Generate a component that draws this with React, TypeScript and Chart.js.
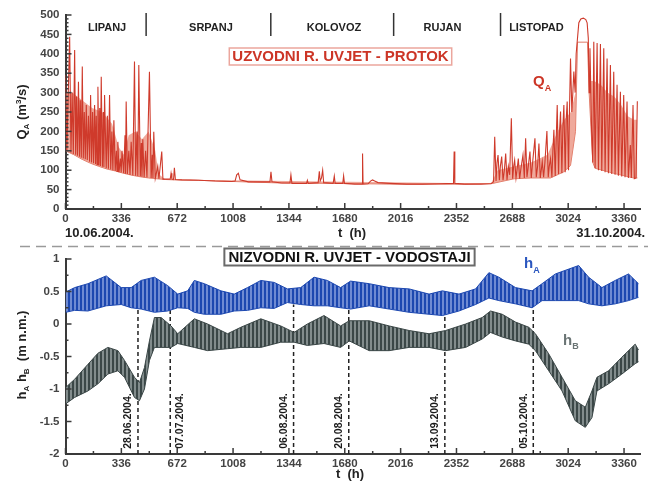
import React, { useEffect, useRef } from "react";
import { Chart, registerables } from "chart.js";
Chart.register(...registerables);

// ---------------- DATA ----------------
const T_MAX = 3456;
const xTickHours = [0, 336, 672, 1008, 1344, 1680, 2016, 2352, 2688, 3024, 3360];
const qTicks = [0, 50, 100, 150, 200, 250, 300, 350, 400, 450, 500];
const hTicks = [-2, -1.5, -1, -0.5, 0, 0.5, 1];

const monthNames = ["LIPANJ", "SRPANJ", "KOLOVOZ", "RUJAN", "LISTOPAD"];
const monthCenterHours = [250, 875, 1615, 2268, 2833];
const monthBreakHours = [485, 1235, 1974, 2617];

const dateMarkLabels = ["28.06.2004.", "07.07.2004.", "06.08.2004.", "20.08.2004.", "13.09.2004.", "05.10.2004."];
const dateMarkHours = [436, 630, 1372, 1704, 2282, 2814];
const dateMarkTop = [0.3, 0.3, 0.3, 0.3, 0.3, 0.3];
const dateLabelSide = [-1, 1, -1, -1, -1, -1];

// upstream discharge Q_A (m3/s)
const qaHours = [
  0, 8, 25, 33, 40, 47, 55, 61, 66, 72,
  78, 84, 89, 95, 101, 107, 113, 119, 125, 131,
  138, 145, 151, 157, 163, 169, 175, 181, 185, 190,
  195, 201, 206, 210, 215, 222, 228, 231, 235, 245,
  252, 258, 265, 272, 279, 285, 291, 299, 306, 310,
  315, 322, 330, 335, 340, 350, 358, 361, 365, 372,
  381, 388, 395, 405, 415, 422, 430, 435, 441, 450,
  456, 460, 465, 473, 482, 490, 505, 515, 522, 526,
  531, 540, 555, 562, 579, 586, 630, 635, 640, 650,
  655, 661, 700, 800, 900, 1000, 1020, 1030, 1040, 1050,
  1100, 1200, 1230, 1236, 1242, 1300, 1350, 1356, 1362, 1400,
  1450, 1455, 1460, 1520, 1527, 1532, 1540, 1547, 1553, 1610,
  1617, 1622, 1668, 1673, 1678, 1740, 1784, 1787, 1790, 1820,
  1835, 1847, 1860, 1880, 1950, 2050, 2150, 2250, 2334, 2338,
  2342, 2400, 2500, 2560, 2575, 2582, 2590, 2596, 2602, 2610,
  2616, 2624, 2632, 2640, 2648, 2656, 2664, 2672, 2682, 2690,
  2696, 2702, 2710, 2716, 2724, 2732, 2740, 2752, 2760, 2768,
  2776, 2784, 2794, 2802, 2810, 2824, 2832, 2840, 2848, 2856,
  2862, 2868, 2876, 2884, 2896, 2904, 2910, 2918, 2926, 2932,
  2938, 2946, 2952, 2958, 2966, 2972, 2978, 2986, 2992, 2998,
  3006, 3012, 3018, 3026, 3032, 3038, 3046, 3052, 3058, 3066,
  3072, 3080, 3088, 3100, 3115, 3130, 3138, 3145, 3150, 3155,
  3165, 3172, 3178, 3186, 3198, 3206, 3218, 3226, 3238, 3246,
  3258, 3266, 3278, 3286, 3298, 3306, 3318, 3326, 3338, 3346,
  3358, 3366, 3378, 3386, 3398, 3404, 3414, 3422, 3432, 3440,
];
const qaFlow = [
  345, 150, 444, 145, 300, 142, 410, 140, 290, 137,
  328, 135, 280, 132, 367, 130, 250, 128, 268, 126,
  240, 122, 294, 120, 250, 118, 268, 116, 240, 114,
  315, 112, 260, 111, 341, 109, 250, 108, 294, 105,
  240, 104, 294, 102, 200, 100, 229, 98, 150, 97,
  173, 95, 130, 94, 150, 92, 190, 91, 277, 90,
  150, 88, 173, 87, 380, 86, 200, 85, 371, 84,
  170, 83, 180, 82, 150, 81, 354, 80, 140, 80,
  199, 79, 110, 78, 148, 77, 77, 92, 77, 76,
  106, 76, 75, 74, 72, 71, 72, 88, 92, 75,
  70, 70, 70, 96, 70, 67, 67, 88, 66, 66,
  66, 74, 66, 68, 97, 72, 80, 100, 68, 66,
  85, 66, 66, 85, 66, 64, 64, 143, 64, 65,
  72, 75, 72, 68, 66, 64, 64, 65, 66, 148,
  66, 64, 64, 65, 70, 186, 72, 120, 139, 74,
  110, 135, 74, 100, 143, 75, 110, 88, 234, 78,
  110, 126, 80, 100, 130, 78, 105, 139, 80, 182,
  82, 110, 148, 80, 120, 182, 82, 110, 169, 80,
  100, 122, 82, 120, 201, 82, 110, 130, 82, 150,
  204, 85, 180, 268, 90, 200, 251, 92, 210, 268,
  95, 230, 277, 100, 260, 388, 250, 300, 354, 300,
  400, 440, 480, 490, 492, 488, 480, 440, 300, 414,
  200, 120, 431, 105, 428, 100, 425, 98, 414, 95,
  388, 92, 371, 90, 354, 88, 320, 86, 302, 84,
  294, 82, 277, 80, 165, 80, 268, 78, 80, 278,
];
// lower envelope (base flow) of Q_A
const qaBaseHours = [0, 50, 100, 150, 200, 250, 300, 350, 400, 450, 500, 550, 600, 660, 800, 1000, 1300, 1600, 2000, 2400, 2570, 2700, 2800, 2918, 2998, 3038, 3068, 3080, 3140, 3150, 3172, 3186, 3298, 3418, 3440];
const qaBase = [150, 140, 128, 118, 110, 103, 98, 92, 87, 83, 80, 78, 76, 75, 74, 71, 67, 66, 64, 64, 66, 78, 80, 80, 96, 112, 200, 430, 430, 300, 120, 105, 92, 80, 80];
// top of the dense (light) band of daily oscillations of Q_A
const qaBandHours = [0, 40, 100, 160, 220, 280, 320, 350, 380, 420, 460, 500, 540, 560, 600, 2560, 2600, 2700, 2800, 2900, 2960, 3000, 3040, 3068, 3080, 3140, 3160, 3180, 3220, 3260, 3300, 3340, 3380, 3420, 3440];
const qaBandTop = [300, 300, 280, 260, 250, 220, 160, 140, 190, 200, 180, 200, 150, 90, 76, 66, 100, 110, 120, 140, 200, 230, 250, 300, 430, 430, 330, 330, 320, 300, 290, 270, 240, 230, 230];

// downstream water levels (m n.m.) - upper / lower envelopes of the tidal band
const haHours = [0, 55, 135, 245, 335, 395, 455, 535, 615, 675, 735, 775, 835, 935, 1015, 1095, 1175, 1255, 1335, 1415, 1495, 1575, 1655, 1715, 1827, 1947, 2067, 2187, 2267, 2367, 2467, 2547, 2607, 2707, 2807, 2867, 2947, 3087, 3147, 3227, 3307, 3387, 3447];
const haUpper = [0.49, 0.56, 0.62, 0.74, 0.56, 0.56, 0.67, 0.72, 0.59, 0.46, 0.51, 0.67, 0.62, 0.51, 0.46, 0.56, 0.67, 0.64, 0.54, 0.56, 0.72, 0.67, 0.56, 0.66, 0.62, 0.56, 0.54, 0.46, 0.51, 0.46, 0.54, 0.79, 0.72, 0.56, 0.51, 0.62, 0.77, 0.9, 0.72, 0.56, 0.67, 0.77, 0.62];
const haLower = [0.18, 0.21, 0.2, 0.28, 0.3, 0.25, 0.23, 0.18, 0.2, 0.25, 0.24, 0.18, 0.15, 0.15, 0.2, 0.21, 0.25, 0.24, 0.33, 0.3, 0.28, 0.28, 0.25, 0.23, 0.28, 0.23, 0.18, 0.15, 0.13, 0.2, 0.3, 0.4, 0.36, 0.31, 0.25, 0.36, 0.36, 0.36, 0.31, 0.28, 0.31, 0.36, 0.41];

const hbHours = [0, 55, 135, 195, 255, 315, 355, 415, 445, 475, 505, 535, 575, 635, 675, 775, 855, 975, 1055, 1175, 1295, 1375, 1455, 1555, 1655, 1707, 1827, 1947, 2067, 2187, 2287, 2407, 2507, 2557, 2627, 2707, 2787, 2827, 2907, 2987, 3067, 3127, 3167, 3197, 3267, 3347, 3427, 3447];
const hbUpper = [-0.98, -0.85, -0.62, -0.45, -0.36, -0.41, -0.56, -0.82, -0.9, -0.67, -0.26, 0.1, 0.1, -0.03, -0.15, 0.08, 0.0, -0.15, -0.05, 0.08, -0.03, -0.13, 0.0, 0.13, -0.03, 0.05, 0.05, -0.03, -0.1, -0.15, -0.1, 0.0, 0.1, 0.2, 0.15, 0.03, -0.05, -0.15, -0.46, -0.82, -1.18, -1.28, -1.03, -0.82, -0.72, -0.51, -0.31, -0.4];
const hbLower = [-1.23, -1.13, -1.03, -0.92, -0.77, -0.72, -0.82, -1.13, -1.18, -1.0, -0.56, -0.36, -0.36, -0.36, -0.3, -0.36, -0.41, -0.38, -0.36, -0.36, -0.28, -0.28, -0.33, -0.3, -0.36, -0.26, -0.41, -0.41, -0.36, -0.36, -0.41, -0.36, -0.23, -0.13, -0.2, -0.26, -0.31, -0.41, -0.72, -1.03, -1.49, -1.59, -1.44, -1.03, -0.92, -0.77, -0.61, -0.58];

const topTitle = "UZVODNI R. UVJET - PROTOK";
const bottomTitle = "NIZVODNI R. UVJET - VODOSTAJI";

// ---------------- STYLE ----------------
const SANS = "'Liberation Sans', Arial, Helvetica, sans-serif";
const AXIS = "#3a3a3a";
const RED = "#cc3526";
const BLUE_D = "#1d48b0";
const BLUE_L = "#6f8bd3";
const GRAY_D = "#3b4747";
const GRAY_L = "#828c8c";

type Part = { text: string; font: string; dy?: number };
function drawRich(ctx: CanvasRenderingContext2D, parts: Part[], x: number, y: number, align: string) {
  let total = 0;
  parts.forEach((p) => { ctx.font = p.font; total += ctx.measureText(p.text).width; });
  let cx = align === "center" ? x - total / 2 : align === "right" ? x - total : x;
  ctx.textAlign = "left";
  ctx.textBaseline = "alphabetic";
  parts.forEach((p) => {
    ctx.font = p.font;
    ctx.fillText(p.text, cx, y + (p.dy || 0));
    cx += ctx.measureText(p.text).width;
  });
}

function drawInwardTicks(chart: any, yStep: number, yMajorEvery: number) {
  const { ctx, chartArea } = chart;
  const xs = chart.scales.x;
  const ys = chart.scales.y;
  ctx.save();
  ctx.strokeStyle = AXIS;
  ctx.lineWidth = 1.5;
  for (let i = 0; i * 168 <= T_MAX; i++) {
    const px = xs.getPixelForValue(i * 168);
    const len = i % 2 === 0 ? 6 : 3;
    ctx.beginPath();
    ctx.moveTo(px, chartArea.bottom);
    ctx.lineTo(px, chartArea.bottom - len);
    ctx.stroke();
  }
  const n = Math.round((ys.max - ys.min) / yStep);
  for (let i = 0; i <= n; i++) {
    const py = ys.getPixelForValue(ys.min + i * yStep);
    const len = i % yMajorEvery === 0 ? 6 : 3;
    ctx.beginPath();
    ctx.moveTo(chartArea.left, py);
    ctx.lineTo(chartArea.left + len, py);
    ctx.stroke();
  }
  ctx.restore();
}

const tickFont = { family: SANS, size: 11.5, weight: "bold" };

function xScale(height: number) {
  return {
    type: "linear",
    min: 0,
    max: T_MAX,
    afterBuildTicks: (s: any) => { s.ticks = xTickHours.map((v) => ({ value: v })); },
    afterFit: (s: any) => { s.height = height; },
    ticks: { autoSkip: false, maxRotation: 0, padding: 3, color: "#444", font: tickFont, callback: (v: any) => String(v) },
    grid: { display: false, drawTicks: false },
    border: { display: true, color: AXIS, width: 2 },
  };
}
function yScale(min: number, max: number, ticks: number[]) {
  return {
    type: "linear",
    min,
    max,
    afterBuildTicks: (s: any) => { s.ticks = ticks.map((v) => ({ value: v })); },
    afterFit: (s: any) => { s.width = 65.5; },
    ticks: { padding: 6, color: "#444", font: tickFont, callback: (v: any) => String(v) },
    grid: { display: false, drawTicks: false },
    border: { display: true, color: AXIS, width: 2 },
  };
}

function stripe(ctx: CanvasRenderingContext2D, dark: string, light: string) {
  const c = document.createElement("canvas");
  c.width = 4;
  c.height = 4;
  const g = c.getContext("2d")!;
  g.fillStyle = light;
  g.fillRect(0, 0, 4, 4);
  g.fillStyle = dark;
  g.fillRect(0, 0, 2, 4);
  return ctx.createPattern(c, "repeat");
}

const topDeco = {
  id: "topDeco",
  afterDraw(chart: any) {
    const { ctx } = chart;
    const xs = chart.scales.x;
    drawInwardTicks(chart, 10, 5);
    ctx.save();
    ctx.fillStyle = "#222";
    ctx.font = `bold 11px ${SANS}`;
    ctx.textAlign = "center";
    ctx.textBaseline = "alphabetic";
    monthNames.forEach((m, i) => ctx.fillText(m, xs.getPixelForValue(monthCenterHours[i]), 31));
    ctx.strokeStyle = "#333";
    ctx.lineWidth = 1.5;
    monthBreakHours.forEach((t) => {
      const px = xs.getPixelForValue(t);
      ctx.beginPath();
      ctx.moveTo(px, 13);
      ctx.lineTo(px, 36);
      ctx.stroke();
    });
    ctx.font = `bold 15px ${SANS}`;
    const w = ctx.measureText(topTitle).width;
    const cx = 340.5;
    ctx.fillStyle = "#fff";
    ctx.fillRect(cx - w / 2 - 3, 48, w + 6, 17);
    ctx.strokeStyle = "#eba69d";
    ctx.lineWidth = 1.5;
    ctx.strokeRect(cx - w / 2 - 3, 48, w + 6, 17);
    ctx.fillStyle = RED;
    ctx.textAlign = "center";
    ctx.textBaseline = "middle";
    ctx.fillText(topTitle, cx, 57);
    ctx.fillStyle = RED;
    drawRich(ctx, [{ text: "Q", font: `bold 15px ${SANS}` }, { text: "A", font: `bold 9px ${SANS}`, dy: 5 }], 533, 86, "left");
    ctx.fillStyle = "#222";
    ctx.save();
    ctx.translate(26, 112);
    ctx.rotate(-Math.PI / 2);
    drawRich(ctx, [
      { text: "Q", font: `bold 13px ${SANS}` },
      { text: "A", font: `bold 8px ${SANS}`, dy: 3 },
      { text: " (m", font: `bold 13px ${SANS}` },
      { text: "3", font: `bold 8px ${SANS}`, dy: -5 },
      { text: "/s)", font: `bold 13px ${SANS}` },
    ], 0, 0, "center");
    ctx.restore();
    ctx.fillStyle = "#222";
    ctx.textBaseline = "alphabetic";
    ctx.font = `bold 13px ${SANS}`;
    ctx.textAlign = "center";
    ctx.fillText("t  (h)", 352, 237);
    ctx.textAlign = "left";
    ctx.fillText("10.06.2004.", 65, 237);
    ctx.textAlign = "right";
    ctx.fillText("31.10.2004.", 645, 237);
    ctx.restore();
  },
};

const bottomDeco = {
  id: "bottomDeco",
  beforeDatasetsDraw(chart: any) {
    const { ctx } = chart;
    const xs = chart.scales.x;
    const ys = chart.scales.y;
    ctx.save();
    ctx.strokeStyle = "#222";
    ctx.lineWidth = 1.5;
    ctx.setLineDash([4, 3]);
    dateMarkHours.forEach((t, i) => {
      const px = xs.getPixelForValue(t);
      ctx.beginPath();
      ctx.moveTo(px, ys.getPixelForValue(-2));
      ctx.lineTo(px, ys.getPixelForValue(dateMarkTop[i]));
      ctx.stroke();
    });
    ctx.restore();
  },
  afterDraw(chart: any) {
    const { ctx } = chart;
    const xs = chart.scales.x;
    const ys = chart.scales.y;
    drawInwardTicks(chart, 0.25, 2);
    ctx.save();
    ctx.fillStyle = "#1a1a1a";
    ctx.font = `bold 10.5px ${SANS}`;
    ctx.textAlign = "left";
    ctx.textBaseline = "middle";
    dateMarkLabels.forEach((lab, i) => {
      const px = xs.getPixelForValue(dateMarkHours[i]) + dateLabelSide[i] * 9.5;
      ctx.save();
      ctx.translate(px, ys.getPixelForValue(-1.92));
      ctx.rotate(-Math.PI / 2);
      ctx.fillText(lab, 0, 0);
      ctx.restore();
    });
    ctx.strokeStyle = "#9a9a9a";
    ctx.lineWidth = 1.5;
    ctx.setLineDash([10, 6]);
    ctx.beginPath();
    ctx.moveTo(20, 1.5);
    ctx.lineTo(648, 1.5);
    ctx.stroke();
    ctx.setLineDash([]);
    ctx.font = `bold 15px ${SANS}`;
    const w = ctx.measureText(bottomTitle).width;
    const cx = 349.5;
    ctx.fillStyle = "#fff";
    ctx.fillRect(cx - w / 2 - 4, 3.5, w + 8, 17);
    ctx.strokeStyle = "#6a6a6a";
    ctx.lineWidth = 2;
    ctx.strokeRect(cx - w / 2 - 4, 3.5, w + 8, 17);
    ctx.fillStyle = "#111";
    ctx.textAlign = "center";
    ctx.textBaseline = "middle";
    ctx.fillText(bottomTitle, cx, 12.5);
    ctx.fillStyle = "#2a56bf";
    drawRich(ctx, [{ text: "h", font: `bold 15px ${SANS}` }, { text: "A", font: `bold 9px ${SANS}`, dy: 5 }], 524, 23, "left");
    ctx.fillStyle = "#6a7474";
    drawRich(ctx, [{ text: "h", font: `bold 15px ${SANS}` }, { text: "B", font: `bold 9px ${SANS}`, dy: 4 }], 563, 100, "left");
    ctx.fillStyle = "#222";
    ctx.save();
    ctx.translate(26, 110);
    ctx.rotate(-Math.PI / 2);
    drawRich(ctx, [
      { text: "h", font: `bold 13px ${SANS}` },
      { text: "A", font: `bold 8px ${SANS}`, dy: 3 },
      { text: " h", font: `bold 13px ${SANS}` },
      { text: "B", font: `bold 8px ${SANS}`, dy: 3 },
      { text: "  (m n.m.)", font: `bold 13px ${SANS}` },
    ], 0, 0, "center");
    ctx.restore();
    ctx.font = `bold 13px ${SANS}`;
    ctx.textAlign = "center";
    ctx.textBaseline = "alphabetic";
    ctx.fillText("t  (h)", 350, 233);
    ctx.restore();
  },
};

function pts(hours: number[], vals: number[]) {
  return hours.map((t, i) => ({ x: t, y: vals[i] }));
}

export default function App() {
  const topRef = useRef<HTMLCanvasElement>(null);
  const botRef = useRef<HTMLCanvasElement>(null);

  useEffect(() => {
    const topCanvas = topRef.current!;
    const botCanvas = botRef.current!;
    const topChart = new Chart(topCanvas, {
      type: "line",
      data: {
        datasets: [
          {
            data: pts(qaHours, qaFlow),
            borderColor: "#cf3a2b",
            borderWidth: 1.1,
            pointRadius: 0,
            fill: false,
            tension: 0,
          },
          {
            data: pts(qaBandHours, qaBandTop),
            borderColor: "rgba(0,0,0,0)",
            borderWidth: 0,
            pointRadius: 0,
            fill: { target: 2 },
            backgroundColor: "rgba(233,140,122,0.75)",
          },
          {
            data: pts(qaBaseHours, qaBase),
            borderColor: "#e07a68",
            borderWidth: 1,
            pointRadius: 0,
            fill: false,
          },
        ],
      },
      options: {
        responsive: false,
        animation: false,
        events: [],
        layout: { padding: { top: 15, right: 13, left: 0, bottom: 0 } },
        plugins: { legend: { display: false }, tooltip: { enabled: false } },
        scales: { x: xScale(36) as any, y: yScale(0, 500, qTicks) as any },
      },
      plugins: [topDeco],
    } as any);

    const bctx = botCanvas.getContext("2d")!;
    const blue = stripe(bctx, BLUE_D, BLUE_L);
    const gray = stripe(bctx, GRAY_D, GRAY_L);
    const botChart = new Chart(botCanvas, {
      type: "line",
      data: {
        datasets: [
          { data: pts(hbHours, hbLower), borderColor: GRAY_D, borderWidth: 1, pointRadius: 0, fill: false },
          { data: pts(hbHours, hbUpper), borderColor: GRAY_D, borderWidth: 1, pointRadius: 0, fill: "-1", backgroundColor: gray },
          { data: pts(haHours, haLower), borderColor: BLUE_D, borderWidth: 1, pointRadius: 0, fill: false },
          { data: pts(haHours, haUpper), borderColor: BLUE_D, borderWidth: 1, pointRadius: 0, fill: "-1", backgroundColor: blue },
        ],
      },
      options: {
        responsive: false,
        animation: false,
        events: [],
        layout: { padding: { top: 14, right: 13, left: 0, bottom: 0 } },
        plugins: { legend: { display: false }, tooltip: { enabled: false } },
        scales: { x: xScale(30) as any, y: yScale(-2, 1, hTicks) as any },
      },
      plugins: [bottomDeco],
    } as any);

    return () => {
      topChart.destroy();
      botChart.destroy();
    };
  }, []);

  return (
    <div style={{ position: "fixed", left: 0, top: 0, width: 653, height: 484, background: "#fff" }}>
      <canvas ref={topRef} width={653} height={245} style={{ position: "absolute", left: 0, top: 0, width: 653, height: 245 }} />
      <canvas ref={botRef} width={653} height={239} style={{ position: "absolute", left: 0, top: 245, width: 653, height: 239 }} />
    </div>
  );
}
